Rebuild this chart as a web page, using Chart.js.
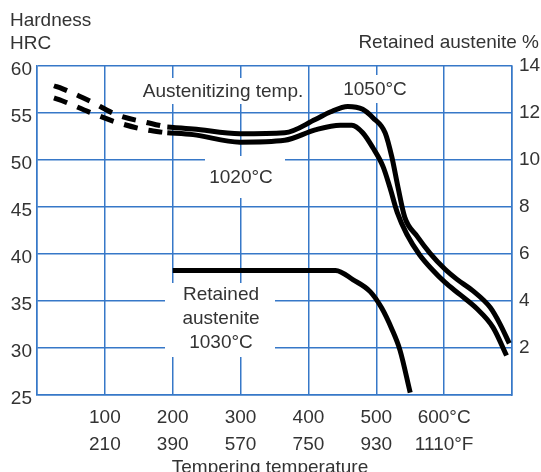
<!DOCTYPE html>
<html>
<head>
<meta charset="utf-8">
<script src="https://cdn.jsdelivr.net/npm/chart.js@4"></script>
<style>
  body { margin: 0; background: #fff; }
  canvas { display: block; }
</style>
</head>
<body>
<canvas id="chart" width="541" height="472"></canvas>
<script>
// tempering temperature (°C) and the matching °F labels
const tickC = [100, 200, 300, 400, 500, 600];
const labelC = ['100', '200', '300', '400', '500', '600°C'];
const labelF = ['210', '390', '570', '750', '930', '1110°F'];

// left axis ticks (HRC)
const hrcTicks = [25, 30, 35, 40, 45, 50, 55, 60];

// hardness, dashed start (low tempering temps)
const tempStart = [25, 37, 77, 118, 161, 192];
const hrc1050Start = [57.9, 57.6, 56.3, 54.8, 54.0, 53.5];
const hrc1020Start = [56.6, 56.3, 55.1, 54.0, 53.2, 52.9];

// hardness, austenitized at 1050°C
const temp1050 = [192, 230, 299, 365, 410, 432, 458, 480, 495, 513, 523, 532, 542, 560, 579, 601, 619, 642, 668, 682, 696];
const hrc1050 = [53.5, 53.3, 52.8, 52.9, 54.3, 55.1, 55.7, 55.4, 54.5, 52.9, 50.3, 47.1, 43.9, 41.9, 40.1, 38.4, 37.3, 36.1, 34.3, 32.6, 30.5];

// hardness, austenitized at 1020°C
const temp1020 = [192, 230, 299, 365, 410, 447, 464, 480, 495, 510, 520, 531, 545, 564, 583, 601, 623, 648, 672, 692];
const hrc1020 = [52.9, 52.7, 51.9, 52.1, 53.2, 53.7, 53.7, 52.9, 51.3, 49.3, 47.1, 44.4, 42.1, 39.9, 38.3, 37.0, 35.7, 34.2, 32.2, 29.2];

// retained austenite %, austenitized at 1030°C
const tempRA = [200, 440, 466, 491, 508, 523, 535, 550];
const retained = [5.3, 5.3, 4.9, 4.4, 3.7, 2.8, 1.9, 0.1];

const FONT = "'Liberation Sans', Arial, Helvetica, sans-serif";
const TEXT = '#333333';
const GRID = 'rgb(55,120,200)';

function pts(xs, ys) {
  return xs.map((x, i) => ({ x: x, y: ys[i] }));
}

function line(data, axis, dashed) {
  return {
    data: data,
    yAxisID: axis,
    borderColor: '#000',
    borderWidth: 5,
    borderDash: dashed ? [14, 11] : [],
    pointRadius: 0,
    fill: false,
    cubicInterpolationMode: 'monotone',
    borderCapStyle: 'butt',
    borderJoinStyle: 'round'
  };
}

// labels with white boxes sitting on the grid
const notes = [
  { lines: ['Austenitizing temp.'], x: 223, y: 92, box: [135, 78, 171, 26] },
  { lines: ['1050°C'], x: 375, y: 90, box: [338, 75, 72, 28] },
  { lines: ['1020°C'], x: 241, y: 178, box: [205, 156, 80, 42] },
  { lines: ['Retained', 'austenite', '1030°C'], x: 221, y: 295, box: [165, 283, 110, 74] }
];

const textPlugin = {
  id: 'texts',
  beforeDatasetsDraw(chart) {
    const ctx = chart.ctx;
    ctx.save();
    ctx.font = '19px ' + FONT;
    ctx.textAlign = 'center';
    ctx.textBaseline = 'middle';
    notes.forEach(n => {
      ctx.fillStyle = '#fff';
      ctx.fillRect(n.box[0], n.box[1], n.box[2], n.box[3]);
      ctx.fillStyle = TEXT;
      n.lines.forEach((t, i) => ctx.fillText(t, n.x, n.y + i * 24));
    });
    ctx.restore();
  },
  afterDraw(chart) {
    const ctx = chart.ctx;
    const ys = chart.scales.y;
    ctx.save();
    ctx.font = '19px ' + FONT;
    ctx.fillStyle = TEXT;
    ctx.textBaseline = 'middle';
    ctx.textAlign = 'right';
    hrcTicks.forEach(v => ctx.fillText(String(v), ys.right - 5, ys.getPixelForValue(v) + 4));
    ctx.textAlign = 'left';
    ctx.fillText('Hardness', 10, 21);
    ctx.fillText('HRC', 10, 44);
    ctx.textAlign = 'right';
    ctx.fillText('Retained austenite %', 539, 43);
    ctx.textAlign = 'center';
    ctx.textBaseline = 'alphabetic';
    ctx.fillText('Tempering temperature', 270, 473);
    ctx.restore();
  }
};

new Chart(document.getElementById('chart'), {
  type: 'line',
  data: {
    datasets: [
      line(pts(tempStart, hrc1050Start), 'y', true),
      line(pts(tempStart, hrc1020Start), 'y', true),
      line(pts(temp1050, hrc1050), 'y', false),
      line(pts(temp1020, hrc1020), 'y', false),
      line(pts(tempRA, retained), 'y1', false)
    ]
  },
  options: {
    responsive: false,
    animation: false,
    layout: { padding: { top: 66, left: 0, right: 0, bottom: 0 } },
    plugins: { legend: { display: false }, tooltip: { enabled: false } },
    scales: {
      x: {
        type: 'linear',
        min: 0,
        max: 700,
        afterFit(s) { s.height = 77; },
        afterBuildTicks(s) {
          s.ticks = [0, 100, 200, 300, 400, 500, 600, 700].map(v => ({ value: v }));
        },
        grid: { color: GRID, lineWidth: 1.5, drawTicks: false },
        border: { color: GRID, width: 1.5 },
        ticks: {
          autoSkip: false,
          maxRotation: 0,
          padding: 10,
          color: TEXT,
          font: { family: FONT, size: 19, lineHeight: 1.38 },
          callback(v) {
            const i = tickC.indexOf(v);
            return i < 0 ? '' : [labelC[i], labelF[i]];
          }
        }
      },
      y: {
        position: 'left',
        min: 25,
        max: 60,
        afterFit(s) { s.width = 37; },
        grid: { color: GRID, lineWidth: 1.5, drawTicks: false },
        border: { color: GRID, width: 1.5 },
        ticks: {
          stepSize: 5,
          display: false
        }
      },
      y1: {
        position: 'right',
        min: 0,
        max: 14,
        afterFit(s) { s.width = 29; },
        grid: { drawOnChartArea: false, drawTicks: false },
        border: { color: GRID, width: 1.5 },
        ticks: {
          stepSize: 2,
          padding: 7,
          color: TEXT,
          font: { family: FONT, size: 19 },
          callback: v => (v === 0 ? '' : v)
        }
      }
    }
  },
  plugins: [textPlugin]
});
</script>
</body>
</html>
